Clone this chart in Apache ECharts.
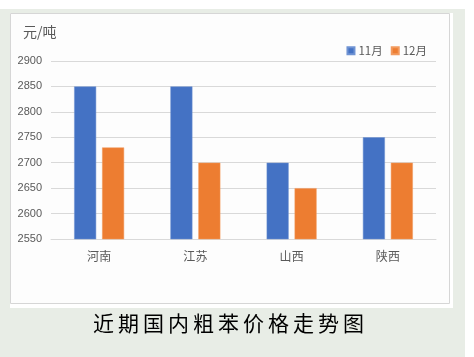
<!DOCTYPE html>
<html>
<head>
<meta charset="utf-8">
<script src="https://cdn.jsdelivr.net/npm/echarts@6/dist/echarts.min.js"></script>
<style>
html,body{margin:0;padding:0;background:#fff;}
#c{width:474px;height:357px;}
</style>
</head>
<body>
<div id="c"></div>
<script>
const categories = ['河南', '江苏', '山西', '陕西'];
const seriesNames = ['11月', '12月'];
const novValues = [2850, 2850, 2700, 2750];
const decValues = [2730, 2700, 2650, 2700];
const yTicks = [2550, 2600, 2650, 2700, 2750, 2800, 2850, 2900];
const unitLabel = '元/吨';
const caption = '近期国内粗苯价格走势图';

const chart = echarts.init(document.getElementById('c'), null, {renderer: 'canvas'});
const font = '"Noto Sans CJK SC", "Noto Sans", sans-serif';
const captionRich = caption.split('').map(ch => '{c|' + ch + '}').join('');
chart.setOption({
  animation: false,
  backgroundColor: '#ffffff',
  graphic: [
    {type: 'rect', z: -10, shape: {x: 0, y: 9, width: 465, height: 348}, style: {fill: '#e8ede6'}},
    {type: 'rect', z: -9, shape: {x: 10, y: 13, width: 443, height: 295}, style: {fill: '#ffffff'}},
    {type: 'rect', z: -8, shape: {x: 10.5, y: 13.5, width: 439, height: 290}, style: {fill: '#fdfdfd', stroke: '#d6d6d6', lineWidth: 1}},
    {type: 'text', left: 23, top: 25, style: {text: unitLabel, font: '14px ' + font, fill: '#595959'}},
    {type: 'text', left: 93, top: 313, style: {
      text: captionRich,
      rich: {c: {fontSize: 21, fontFamily: font, color: '#1a1a1a', width: 25, align: 'left'}}
    }}
  ],
  legend: {
    data: seriesNames,
    right: 42,
    top: 40,
    itemWidth: 7,
    itemHeight: 7,
    itemGap: 8,
    icon: 'rect',
    textStyle: {color: '#595959', fontSize: 11.5, fontFamily: font, padding: [0,0,0,-1]}
  },
  grid: {left: 51, right: 38, top: 61, bottom: 118, containLabel: false},
  xAxis: {
    type: 'category',
    data: categories,
    axisTick: {show: false},
    axisLine: {lineStyle: {color: '#d9d9d9'}},
    axisLabel: {color: '#595959', fontSize: 12, fontFamily: font, margin: 11}
  },
  yAxis: {
    type: 'value',
    min: yTicks[0],
    max: yTicks[yTicks.length - 1],
    interval: 50,
    axisLine: {show: false},
    axisTick: {show: false},
    splitLine: {lineStyle: {color: '#d9d9d9'}},
    axisLabel: {color: '#595959', fontSize: 11, fontFamily: '"Liberation Sans", "Noto Sans", sans-serif', margin: 9,
      formatter: v => String(v)}
  },
  series: [
    {name: seriesNames[0], type: 'bar', data: novValues, barWidth: 22, barGap: '27%',
     itemStyle: {color: '#4472C4', borderColor: '#6f93d3', borderWidth: 0.5}},
    {name: seriesNames[1], type: 'bar', data: decValues, barWidth: 22,
     itemStyle: {color: '#ED7D31', borderColor: '#f29a5e', borderWidth: 0.5}}
  ]
});
</script>
</body>
</html>
